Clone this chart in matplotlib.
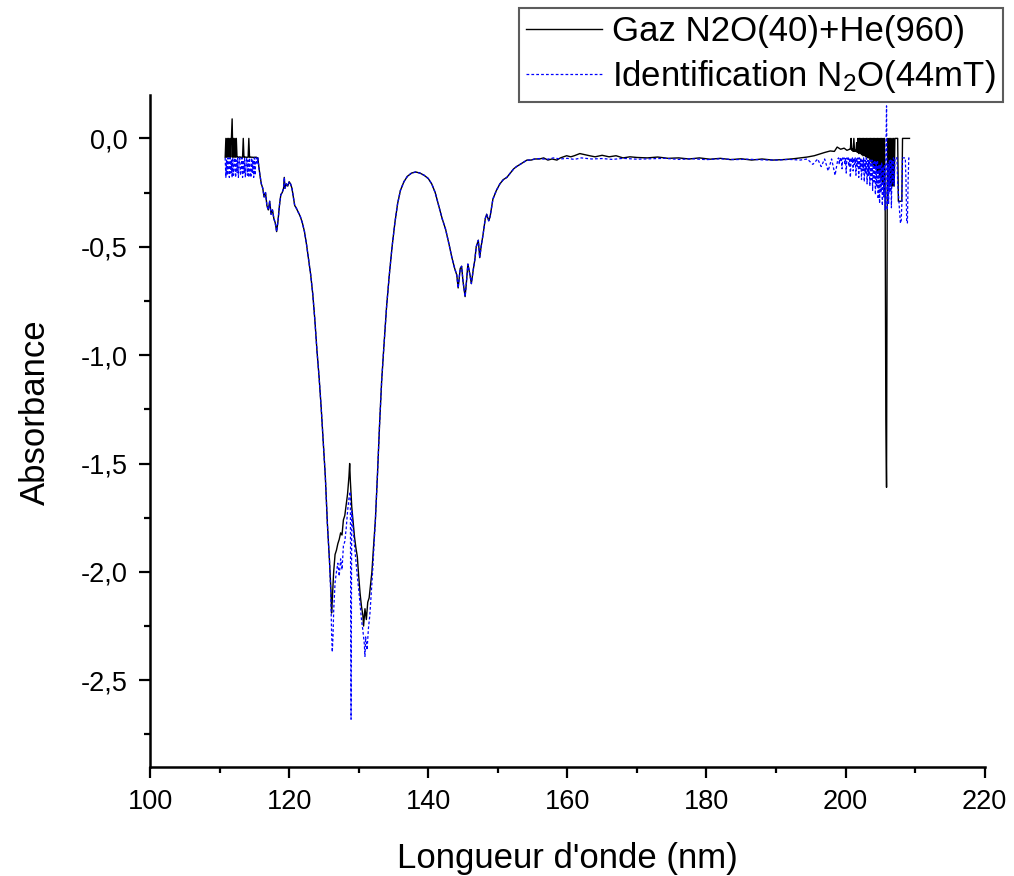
import numpy as np
import matplotlib.pyplot as plt
from matplotlib.ticker import MultipleLocator, FuncFormatter

plt.rcParams['font.family'] = ['Liberation Sans', 'DejaVu Sans']
plt.rcParams['mathtext.fontset'] = 'custom'
plt.rcParams['mathtext.rm'] = 'Liberation Sans'
plt.rcParams['mathtext.it'] = 'Liberation Sans:italic'

label_gaz = 'Gaz N2O(40)+He(960)'
label_n2o = 'Identification N$_2$O(44mT)'

# noisy start, 0.1 nm grid from 110.8 nm
start_wl0 = 110.8
gaz_start = [-0.087, 0.0, -0.087, 0.0, -0.087, 0.0, -0.087, 0.0, -0.087, 0.0,
             0.09, -0.087, 0.0, -0.087, 0.0, -0.087, 0.0, -0.087, -0.085, -0.087,
             -0.087, -0.085, -0.087, -0.087, -0.088, -0.087, 0.0, -0.087, -0.087, -0.086,
             -0.087, -0.087, -0.087, -0.087, 0.0, -0.087, -0.087, -0.086, -0.087, -0.087,
             -0.087, -0.088, -0.087, -0.087, -0.087, -0.087, -0.09]
n2o_start = [-0.09, -0.18, -0.1, -0.17, -0.09, -0.15, -0.18, -0.09, -0.16, -0.1,
             -0.18, -0.09, -0.17, -0.12, -0.09, -0.18, -0.1, -0.16, -0.09, -0.18,
             -0.11, -0.09, -0.17, -0.14, -0.09, -0.18, -0.1, -0.16, -0.09, -0.18,
             -0.12, -0.09, -0.17, -0.1, -0.18, -0.09, -0.15, -0.18, -0.09, -0.16,
             -0.1, -0.18, -0.09, -0.17, -0.1, -0.09, -0.12]

# shared descent towards the main band
wl_edge = [115.5, 115.6, 115.8, 116.0, 116.2, 116.4, 116.6, 116.8, 117.0, 117.2,
           117.4, 117.6, 117.8, 118.0, 118.2, 118.4, 118.6, 118.8, 119.0, 119.2,
           119.3, 119.4, 119.6, 119.8, 120.0, 120.2, 120.4, 120.6, 120.8, 121.0,
           121.3, 121.6, 121.9, 122.2, 122.5, 122.8, 123.1, 123.4, 123.7, 124.0,
           124.3, 124.6, 124.9, 125.2, 125.5, 125.8]
abs_edge = [-0.09, -0.12, -0.17, -0.21, -0.23, -0.27, -0.25, -0.31, -0.33, -0.29,
            -0.35, -0.33, -0.37, -0.39, -0.43, -0.38, -0.31, -0.26, -0.25, -0.23,
            -0.18, -0.23, -0.21, -0.22, -0.2, -0.21, -0.23, -0.27, -0.31, -0.32,
            -0.34, -0.36, -0.39, -0.43, -0.49, -0.56, -0.63, -0.72, -0.84, -0.98,
            -1.1, -1.24, -1.4, -1.56, -1.78, -1.95]

# main band bottom
wl_trough_gaz = [126.0, 126.1, 126.2, 126.4, 126.6, 126.8, 127.0, 127.2, 127.4, 127.6,
                 127.8, 128.0, 128.2, 128.4, 128.6, 128.7, 128.8, 129.0, 129.2, 129.4,
                 129.6, 129.8, 130.0, 130.2, 130.4, 130.6, 130.7, 130.9, 131.1, 131.3,
                 131.5, 131.7, 131.9, 132.1]
gaz_trough = [-2.08, -2.19, -2.13, -2.0, -1.92, -1.9, -1.87, -1.85, -1.82, -1.83,
              -1.76, -1.74, -1.69, -1.64, -1.56, -1.5, -1.58, -1.7, -1.77, -1.84,
              -1.89, -1.93, -2.02, -2.1, -2.16, -2.2, -2.25, -2.17, -2.22, -2.14,
              -2.12, -2.06, -2.0, -1.9]
wl_trough_n2o = [126.0, 126.1, 126.2, 126.3, 126.4, 126.6, 126.8, 127.0, 127.2, 127.4,
                 127.6, 127.8, 128.0, 128.2, 128.4, 128.6, 128.8, 128.9, 129.0, 129.2,
                 129.4, 129.6, 129.8, 130.0, 130.2, 130.4, 130.6, 130.8, 130.9, 131.0,
                 131.2, 131.4, 131.6, 131.8, 132.0]
n2o_trough = [-2.12, -2.28, -2.37, -2.3, -2.18, -2.05, -2.0, -1.96, -2.02, -1.94,
              -1.99, -1.88, -1.86, -1.8, -1.72, -1.66, -1.63, -2.68, -1.72, -1.8,
              -1.88, -1.95, -2.02, -2.08, -2.15, -2.22, -2.27, -2.33, -2.39, -2.3,
              -2.36, -2.26, -2.2, -2.1, -2.0]

# shared recovery and second band
wl_band = [132.4, 132.7, 133.0, 133.3, 133.6, 134.0, 134.4, 134.8, 135.2, 135.6,
           136.0, 136.5, 137.0, 137.6, 138.2, 138.8, 139.4, 140.0, 140.5, 141.0,
           141.5, 142.0, 142.5, 143.0, 143.4, 143.8, 144.1, 144.3, 144.6, 144.8,
           145.0, 145.3, 145.5, 145.7, 146.0, 146.2, 146.5, 146.7, 146.9, 147.2,
           147.4, 147.6, 147.9, 148.2, 148.4, 148.7, 148.9, 149.3, 149.8, 150.3,
           150.8, 151.3, 151.8, 152.3, 152.7, 153.2, 153.7, 154.2, 154.8]
abs_band = [-1.76, -1.55, -1.32, -1.12, -0.97, -0.78, -0.63, -0.5, -0.39, -0.3,
            -0.24, -0.2, -0.175, -0.16, -0.155, -0.16, -0.17, -0.185, -0.21, -0.25,
            -0.31, -0.37, -0.42, -0.49, -0.55, -0.6, -0.63, -0.69, -0.6, -0.59,
            -0.66, -0.73, -0.66, -0.58, -0.63, -0.67, -0.6, -0.56, -0.5, -0.47,
            -0.55, -0.5, -0.44, -0.37, -0.35, -0.38, -0.36, -0.28, -0.24, -0.21,
            -0.19, -0.18, -0.16, -0.14, -0.13, -0.12, -0.11, -0.1, -0.1]

# flat part
wl_flat_gaz = [155.3, 156.0, 156.6, 157.2, 157.8, 158.5, 159.0, 159.9, 160.5, 161.0,
               161.8, 162.5, 163.2, 164.0, 165.0, 166.0, 167.0, 168.0, 169.0, 170.0,
               171.5, 173.0, 174.5, 176.0, 177.5, 179.0, 180.5, 182.0, 183.5, 185.0,
               186.5, 188.0, 189.5, 191.0, 192.5, 193.5, 194.5, 195.5, 196.3, 197.0,
               197.8, 198.4, 198.8, 199.3, 199.8, 200.2, 200.6]
gaz_flat = [-0.095, -0.095, -0.09, -0.1, -0.095, -0.1, -0.09, -0.08, -0.085, -0.08,
            -0.07, -0.075, -0.08, -0.085, -0.078, -0.085, -0.08, -0.09, -0.085, -0.088,
            -0.09, -0.086, -0.092, -0.09, -0.095, -0.09, -0.096, -0.092, -0.098, -0.094,
            -0.1, -0.095, -0.1, -0.098, -0.094, -0.09, -0.086, -0.08, -0.072, -0.065,
            -0.058, -0.06, -0.04, -0.05, -0.045, -0.055, -0.05]
wl_flat_n2o = [155.3, 156.0, 157.0, 158.0, 159.0, 160.0, 161.0, 162.0, 163.5, 165.0,
               166.5, 168.0, 170.0, 172.0, 174.0, 176.0, 178.0, 180.0, 182.0, 184.0,
               186.0, 188.0, 190.0, 192.0, 193.5, 194.5, 195.3, 196.0, 196.5, 197.0,
               197.5, 198.0, 198.5, 198.9]
n2o_flat = [-0.095, -0.093, -0.097, -0.09, -0.095, -0.092, -0.097, -0.09, -0.095, -0.093,
            -0.097, -0.092, -0.096, -0.094, -0.092, -0.097, -0.094, -0.098, -0.094, -0.098,
            -0.096, -0.099, -0.1, -0.097, -0.1, -0.095, -0.12, -0.095, -0.13, -0.095,
            -0.15, -0.095, -0.17, -0.095]

# noisy end, 0.1 nm grid
tail_gaz_wl0 = 200.7
gaz_tail = [-0.05, 0.0, -0.055, -0.05, -0.06, 0.0, -0.06, -0.055, -0.06, -0.02,
            -0.065, 0.0, -0.07, 0.0, -0.07, 0.0, -0.075, 0.0, -0.08, 0.0,
            -0.08, 0.0, -0.085, 0.0, -0.09, 0.0, -0.09, 0.0, -0.1, 0.0,
            -0.11, 0.0, -0.12, 0.0, -0.13, 0.0, -0.14, 0.0, -0.15, 0.0,
            -0.16, 0.0, -0.17, 0.0, -0.19, 0.0, -0.21, 0.0, -0.24, 0.0,
            -0.27, -1.3, -1.61, -0.25, 0.0, -0.22, 0.0, -0.22, 0.0, -0.22,
            0.0, -0.22, 0.0, -0.22, 0.0, 0.0, 0.0, 0.0, 0.0, -0.29,
            -0.29, -0.29, -0.29, -0.29, -0.29, 0.0, 0.0, 0.0, 0.0, 0.0,
            0.0, 0.0, 0.0, 0.0, 0.0, 0.0]
tail_n2o_wl0 = 199.0
n2o_tail = [-0.09, -0.12, -0.09, -0.1, -0.09, -0.14, -0.09, -0.1, -0.09, -0.12,
            -0.09, -0.16, -0.09, -0.1, -0.09, -0.13, -0.09, -0.18, -0.09, -0.11,
            -0.09, -0.15, -0.09, -0.12, -0.09, -0.17, -0.09, -0.13, -0.09, -0.18,
            -0.09, -0.14, -0.09, -0.19, -0.1, -0.15, -0.09, -0.2, -0.1, -0.16,
            -0.09, -0.21, -0.1, -0.17, -0.1, -0.22, -0.1, -0.19, -0.1, -0.24,
            -0.11, -0.2, -0.1, -0.26, -0.11, -0.22, -0.1, -0.28, -0.12, -0.3,
            -0.12, -0.25, -0.11, -0.31, -0.13, -0.27, -0.12, -0.33, -0.1, 0.15,
            -0.33, -0.12, -0.3, -0.1, -0.25, -0.1, -0.32, -0.1, -0.2, -0.09,
            -0.22, -0.09, -0.09, -0.09, -0.09, -0.2, -0.25, -0.3, -0.35, -0.39,
            -0.39, -0.3, -0.09, -0.09, -0.09, -0.09, -0.09, -0.2, -0.39, -0.39,
            -0.2, -0.09, -0.09, -0.087]


def grid(wl0, values):
    return list(np.round(wl0 + 0.1 * np.arange(len(values)), 2))


wl_gaz = grid(start_wl0, gaz_start) + wl_edge + wl_trough_gaz + wl_band + wl_flat_gaz + grid(tail_gaz_wl0, gaz_tail)
ab_gaz = gaz_start + abs_edge + gaz_trough + abs_band + gaz_flat + gaz_tail
wl_n2o = grid(start_wl0, n2o_start) + wl_edge + wl_trough_n2o + wl_band + wl_flat_n2o + grid(tail_n2o_wl0, n2o_tail)
ab_n2o = n2o_start + abs_edge + n2o_trough + abs_band + n2o_flat + n2o_tail

fig = plt.figure(figsize=(10.14, 8.76), dpi=100)
ax = fig.add_axes([0.148, 0.1245, 0.823, 0.767])

ax.plot(wl_gaz, ab_gaz, color='black', lw=1.0, label=label_gaz)
ax.plot(wl_n2o, ab_n2o, color='#0000ff', lw=0.9, ls=(0, (2.2, 1.7)), label=label_n2o)

ax.set_xlim(100, 220)
ax.set_ylim(-2.9, 0.2)
ax.xaxis.set_major_locator(MultipleLocator(20))
ax.xaxis.set_minor_locator(MultipleLocator(10))
ax.yaxis.set_major_locator(MultipleLocator(0.5))
ax.yaxis.set_minor_locator(MultipleLocator(0.25))


def comma(v, pos):
    if abs(v) < 1e-9:
        v = 0.0
    return f'{v:.1f}'.replace('.', ',')


ax.yaxis.set_major_formatter(FuncFormatter(comma))

for s in ['top', 'right']:
    ax.spines[s].set_visible(False)
for s in ['left', 'bottom']:
    ax.spines[s].set_linewidth(1.8)

ax.tick_params(which='major', direction='out', length=8, width=1.6, labelsize=19.5)
ax.tick_params(which='minor', direction='out', length=4.5, width=1.6)
ax.tick_params(axis='y', which='major', pad=8)
ax.tick_params(axis='x', which='major', pad=8)

ax.set_xlabel("Longueur d'onde (nm)", fontsize=25, labelpad=19)
ax.set_ylabel('Absorbance', fontsize=25)
ax.yaxis.set_label_coords(-0.117, 0.528)

leg = fig.legend(loc='upper right', bbox_to_anchor=(1003 / 1014, 1 - 8 / 876),
                 fontsize=25, frameon=True, fancybox=False, borderaxespad=0,
                 handlelength=2.2, handletextpad=0.3, labelspacing=0.3,
                 borderpad=0.2)
leg.get_frame().set_edgecolor('#333333')
leg.get_frame().set_linewidth(1.5)

fig.savefig('out.png', dpi=100)
